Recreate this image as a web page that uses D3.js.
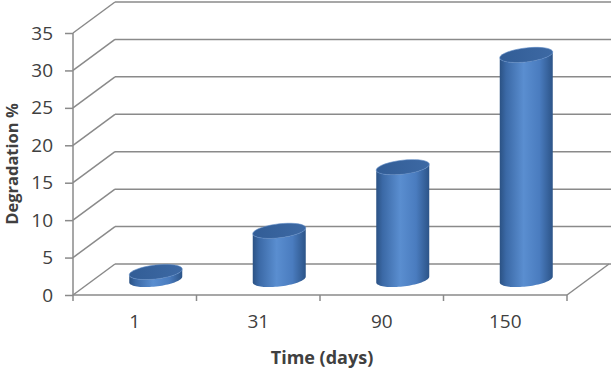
<!DOCTYPE html>
<html>
<head>
<meta charset="utf-8">
<script src="https://cdn.jsdelivr.net/npm/d3@7"></script>
<style>
  body { margin: 0; background: #fff; }
  text { font-family: "Open Sans", sans-serif; fill: #404040; }
</style>
</head>
<body>
<div id="chart"></div>
<script>
var categories = ["1", "31", "90", "150"];
var values = [1, 6.5, 15, 30];
var yTicks = [0, 5, 10, 15, 20, 25, 30, 35];

var width = 611, height = 371;
var plotLeft = 73, plotRight = 567, plotBottom = 295, plotTop = 33;
var depthX = 42, depthY = -31;   // back wall offset
var gridCol = "#8a8a8a";

var svg = d3.select("#chart").append("svg")
    .attr("width", width)
    .attr("height", height);

var x = d3.scaleBand().domain(categories).range([plotLeft, plotRight]);
var y = d3.scaleLinear().domain([0, 35]).range([plotBottom, plotTop]);

//////////// GRADIENTS ////////////
var defs = svg.append("defs");
var body = defs.append("linearGradient").attr("id", "cylBody")
    .attr("x1", "0%").attr("x2", "100%").attr("y1", "0%").attr("y2", "0%");
[["0%", "#2b5284"], ["12%", "#3b69a6"], ["45%", "#5a8ed0"], ["75%", "#4a7cbf"], ["100%", "#2c5488"]]
  .forEach(function(s) { body.append("stop").attr("offset", s[0]).attr("stop-color", s[1]); });
var topG = defs.append("linearGradient").attr("id", "cylTop")
    .attr("x1", "0%").attr("x2", "100%").attr("y1", "0%").attr("y2", "0%");
[["0%", "#325d96"], ["100%", "#3d69a4"]]
  .forEach(function(s) { topG.append("stop").attr("offset", s[0]).attr("stop-color", s[1]); });

//////////// WALLS & GRID ////////////
var grid = svg.append("g").attr("class", "grid")
    .attr("stroke", gridCol).attr("stroke-width", 1.5).attr("fill", "none");

yTicks.forEach(function(t) {
  // side wall diagonal
  grid.append("line")
    .attr("x1", plotLeft).attr("y1", y(t))
    .attr("x2", plotLeft + depthX).attr("y2", y(t) + depthY);
  // back wall
  grid.append("line")
    .attr("x1", plotLeft + depthX).attr("y1", y(t) + depthY)
    .attr("x2", width).attr("y2", y(t) + depthY);
});

// floor right edge
grid.append("line")
  .attr("x1", plotRight).attr("y1", y(0))
  .attr("x2", plotRight + depthX).attr("y2", y(0) + depthY);

//////////// AXES ////////////
var yAxis = svg.append("g")
    .attr("transform", "translate(" + plotLeft + ",0)")
    .call(d3.axisLeft(y).tickValues(yTicks).tickSize(8).tickPadding(12));
var xAxis = svg.append("g")
    .attr("transform", "translate(0," + plotBottom + ")")
    .call(d3.axisBottom(x).tickSize(0).tickPadding(20));

// category boundary ticks
var bounds = categories.map(function(c) { return x(c); }).concat([plotRight]);
xAxis.selectAll(".bound").data(bounds).enter().append("line")
    .attr("class", "bound")
    .attr("x1", function(d) { return d; }).attr("x2", function(d) { return d; })
    .attr("y1", 0).attr("y2", 6);

svg.selectAll(".domain, .tick line, .bound")
    .attr("stroke", gridCol).attr("stroke-width", 1.5);
yAxis.select(".domain").attr("d", "M0," + y(35) + "V" + y(0));
xAxis.select(".domain").attr("d", "M" + plotLeft + ",0H" + plotRight);
svg.selectAll(".tick text")
    .attr("font-size", 19).attr("fill", "#404040")
    .attr("font-family", "'Open Sans', sans-serif");

//////////// CYLINDERS ////////////
var rx = 26.5, ry = 7, skew = -0.11;
function ellipsePts(cx, cy, a0, a1) {
  return d3.range(0, 41).map(function(i) {
    var a = a0 + (a1 - a0) * i / 40;
    return [cx + rx * Math.cos(a), cy + ry * Math.sin(a) + skew * rx * Math.cos(a)];
  });
}
var line = d3.line();

var cyl = svg.selectAll("g.cyl")
    .data(values)
    .enter().append("g")
    .attr("class", "cyl");

cyl.each(function(d, i) {
  var g = d3.select(this);
  var cx = x(categories[i]) + x.bandwidth() / 2 + depthX / 2;
  var yb = y(0) + depthY / 2;
  var yt = y(d) + depthY / 2;
  var pts = ellipsePts(cx, yb, 0, Math.PI)            // bottom front arc
      .concat(ellipsePts(cx, yt, Math.PI, 0));         // top back arc
  g.append("path")
    .attr("d", line(pts) + "Z")
    .attr("fill", "url(#cylBody)");
  g.append("path")
    .attr("d", line(ellipsePts(cx, yt, 0, 2 * Math.PI)) + "Z")
    .attr("fill", "url(#cylTop)")
    .attr("stroke", "#5a88c4").attr("stroke-width", 0.6);
});

//////////// TITLES ////////////
svg.append("text")
    .attr("x", (plotLeft + plotRight) / 2 + 2)
    .attr("y", 364)
    .attr("text-anchor", "middle")
    .attr("font-size", 18)
    .attr("font-weight", "bold")
    .text("Time (days)");

svg.append("text")
    .attr("transform", "translate(18," + 164 + ") rotate(-90)")
    .attr("text-anchor", "middle")
    .attr("font-size", 16.5)
    .attr("font-weight", "bold")
    .text("Degradation %");
</script>
</body>
</html>
